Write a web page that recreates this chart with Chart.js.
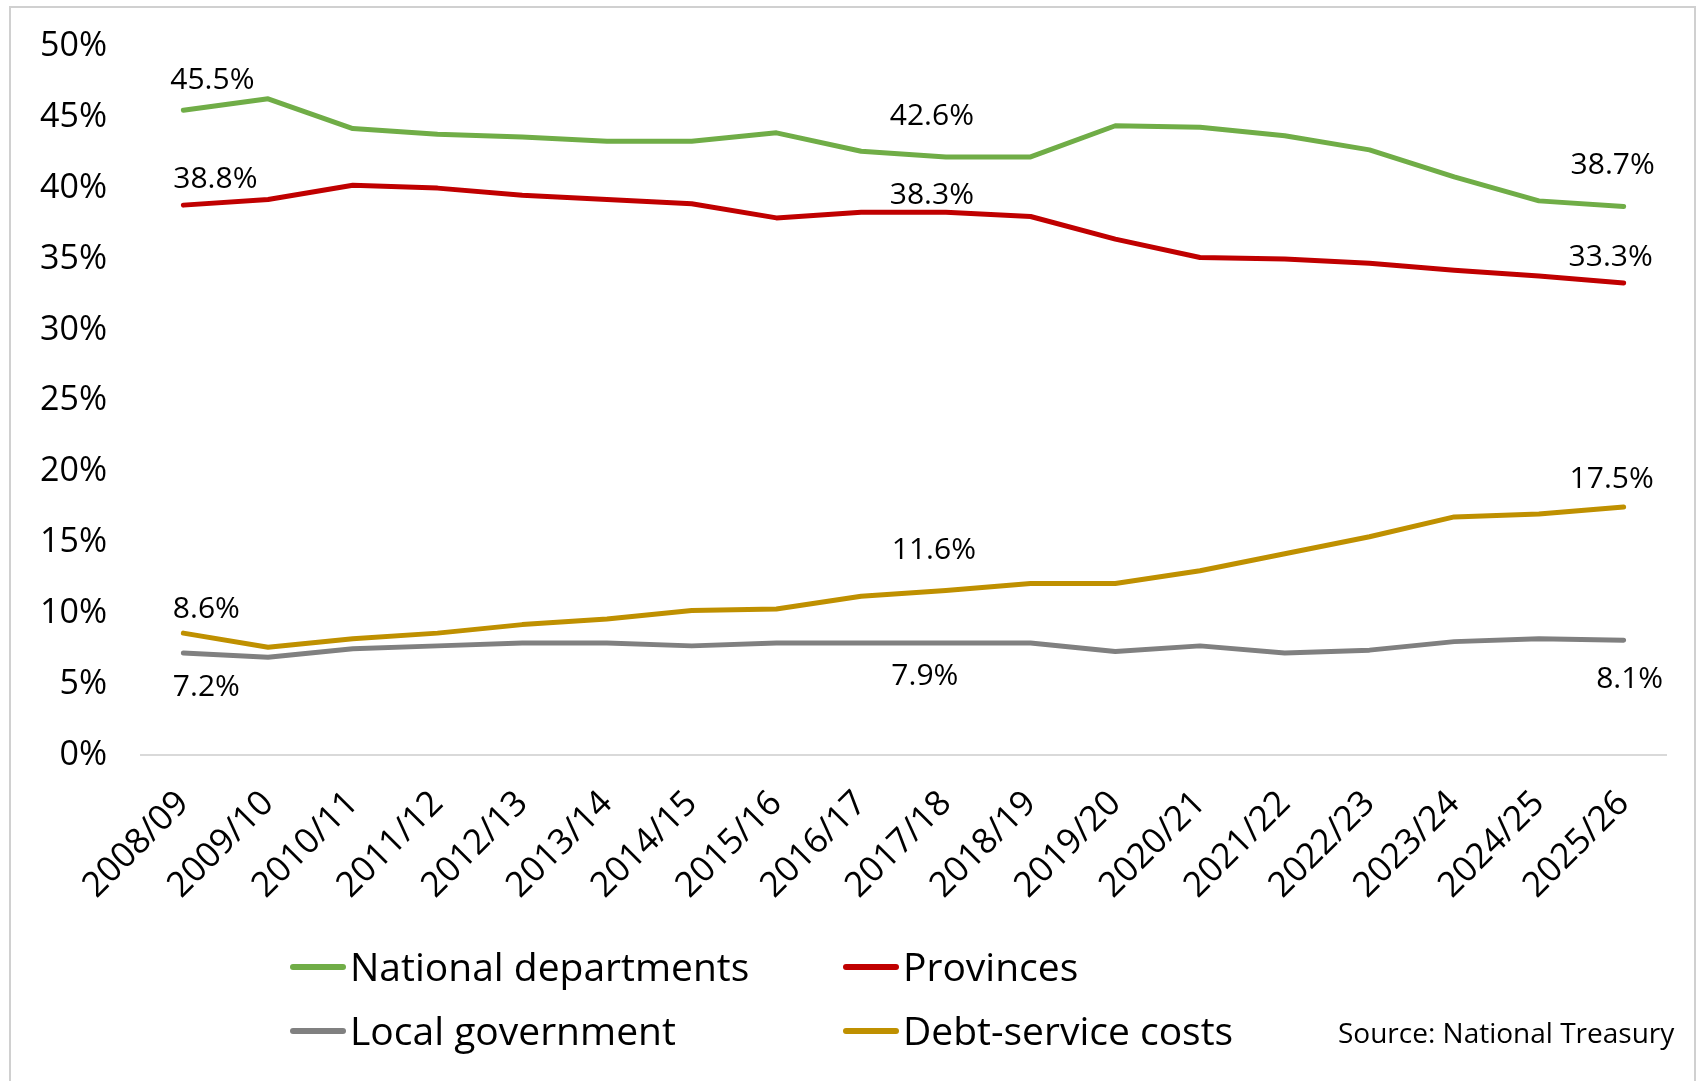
<!DOCTYPE html>
<html>
<head>
<meta charset="utf-8">
<script src="https://cdn.jsdelivr.net/npm/chart.js@4/dist/chart.umd.min.js"></script>
<style>
  html, body { margin: 0; padding: 0; background: #ffffff; }
  #wrap { position: relative; width: 1698px; height: 1081px; overflow: hidden; }
  canvas { position: absolute; left: 0; top: 0; }
</style>
</head>
<body>
<div id="wrap"><canvas id="c" width="1698" height="1081"></canvas></div>
<script>
// ---------------- DATA ----------------
const categories = ['2008/09','2009/10','2010/11','2011/12','2012/13','2013/14','2014/15','2015/16','2016/17',
  '2017/18','2018/19','2019/20','2020/21','2021/22','2022/23','2023/24','2024/25','2025/26'];
const seriesNames = ['National departments','Provinces','Local government','Debt-service costs'];
const nationalDepartments = [45.5,46.3,44.2,43.8,43.6,43.3,43.3,43.9,42.6,42.2,42.2,44.4,44.3,43.7,42.7,40.8,39.1,38.7];
const provinces          = [38.8,39.2,40.2,40.0,39.5,39.2,38.9,37.9,38.3,38.3,38.0,36.4,35.1,35.0,34.7,34.2,33.8,33.3];
const localGovernment    = [7.2,6.9,7.5,7.7,7.9,7.9,7.7,7.9,7.9,7.9,7.9,7.3,7.7,7.2,7.4,8.0,8.2,8.1];
const debtServiceCosts   = [8.6,7.6,8.2,8.6,9.2,9.6,10.2,10.3,11.2,11.6,12.1,12.1,13.0,14.2,15.4,16.8,17.0,17.5];
const yTickValues = [0,5,10,15,20,25,30,35,40,45,50];
// data labels: [series index, category index, text]
const labelSeries = [0,0,0, 1,1,1, 3,3,3, 2,2,2];
const labelIndex  = [0,9,17, 0,9,17, 0,9,17, 0,9,17];
const labelText   = ['45.5%','42.6%','38.7%','38.8%','38.3%','33.3%','8.6%','11.6%','17.5%','7.2%','7.9%','8.1%'];
const sourceNote  = 'Source: National Treasury';

// ---------------- STYLE ----------------
const FONT = '"Open Sans", "Liberation Sans", sans-serif';
const colors = ['#70AD47','#C00000','#808080','#BF9000'];
// offsets of label centres from their points (px)
const labelOffsets = [[29,-32],[-14,-43],[-11,-43],[32,-28],[-14,-19],[-13,-28],[23,-26],[-12,-42],[-12,-30],[23,32],[-21,31],[6,37]];

const datasets = [nationalDepartments, provinces, localGovernment, debtServiceCosts].map((d, i) => ({
  label: seriesNames[i],
  data: d,
  borderColor: colors[i],
  backgroundColor: colors[i],
  borderWidth: 5,
  pointRadius: 0,
  tension: 0,
  borderCapStyle: 'round',
  borderJoinStyle: 'round',
  fill: false
}));

const framePlugin = {
  id: 'frame',
  beforeDraw(chart) {
    const ctx = chart.ctx;
    ctx.save();
    ctx.fillStyle = '#ffffff';
    ctx.fillRect(0, 0, chart.width, chart.height);
    ctx.strokeStyle = '#d0d0d0';
    ctx.lineWidth = 2;
    ctx.strokeRect(10, 7, 1685, 1090);
    ctx.restore();
  }
};

const labelPlugin = {
  id: 'pointLabels',
  afterDatasetsDraw(chart) {
    const ctx = chart.ctx;
    ctx.save();
    const fs = 30;
    ctx.font = fs + 'px ' + FONT;
    ctx.fillStyle = '#000000';
    ctx.textAlign = 'center';
    ctx.textBaseline = 'alphabetic';
    labelText.forEach((t, k) => {
      const el = chart.getDatasetMeta(labelSeries[k]).data[labelIndex[k]];
      const x = el.x + labelOffsets[k][0];
      const y = el.y + labelOffsets[k][1] + fs * 0.357;
      ctx.fillText(t, x, y);
    });
    ctx.restore();
  }
};

const legendPlugin = {
  id: 'customLegend',
  afterDraw(chart) {
    const ctx = chart.ctx;
    ctx.save();
    const colX = [290, 843];
    const rowY = [967, 1031];
    const fs = 39;
    ctx.font = fs + 'px ' + FONT;
    ctx.textAlign = 'left';
    ctx.textBaseline = 'alphabetic';
    chart.data.datasets.forEach((ds, i) => {
      const x = colX[i % 2], y = rowY[Math.floor(i / 2)];
      ctx.strokeStyle = ds.borderColor;
      ctx.lineWidth = 6;
      ctx.lineCap = 'round';
      ctx.beginPath();
      ctx.moveTo(x + 3, y);
      ctx.lineTo(x + 53, y);
      ctx.stroke();
      ctx.fillStyle = '#000000';
      ctx.fillText(ds.label, x + 60, y + fs * 0.357);
    });
    ctx.font = '28px ' + FONT;
    ctx.fillText(sourceNote, 1338, 1043);
    ctx.restore();
  }
};

new Chart(document.getElementById('c'), {
  type: 'line',
  data: { labels: categories, datasets: datasets },
  options: {
    responsive: false,
    devicePixelRatio: 1,
    animation: false,
    layout: { padding: { left: 0, top: 34, right: 32, bottom: 0 } },
    plugins: { legend: { display: false }, tooltip: { enabled: false } },
    scales: {
      x: {
        type: 'category',
        offset: true,
        grid: { display: false },
        border: { display: true, color: '#d9d9d9', width: 2 },
        ticks: {
          autoSkip: false,
          maxRotation: 45,
          minRotation: 45,
          padding: 20,
          color: '#000000',
          font: { family: FONT, size: 35 }
        },
        afterFit(scale) { scale.height = 1081 - 755; }
      },
      y: {
        min: 0,
        max: 50,
        afterBuildTicks(scale) { scale.ticks = yTickValues.map(v => ({ value: v })); },
        grid: { display: false },
        border: { display: false },
        ticks: {
          padding: 26,
          color: '#000000',
          font: { family: FONT, size: 34 },
          callback: (v) => v + '%'
        },
        afterFit(scale) { scale.width = 141; }
      }
    }
  },
  plugins: [framePlugin, labelPlugin, legendPlugin]
});
</script>
</body>
</html>
